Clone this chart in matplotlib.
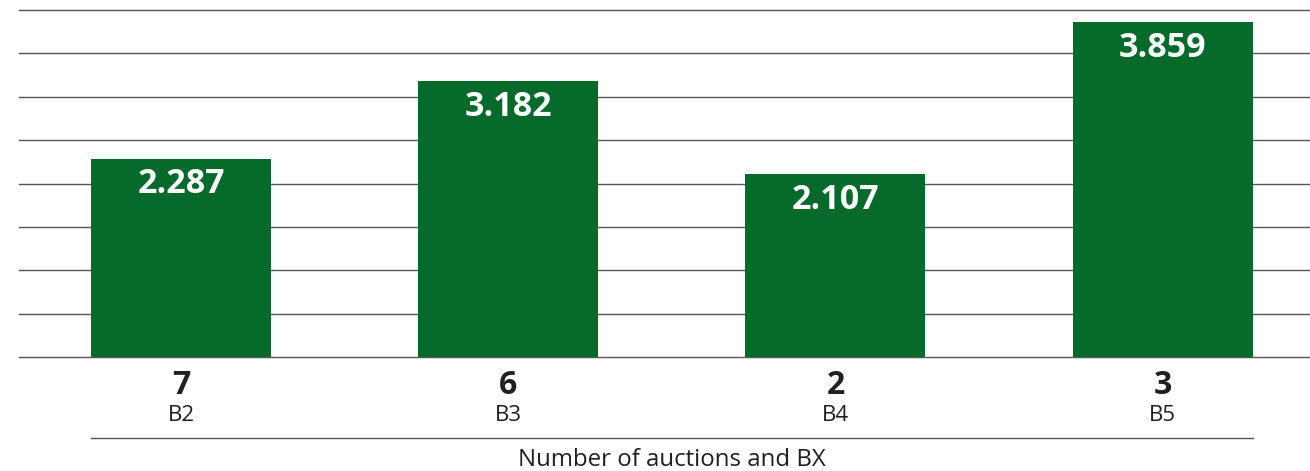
import matplotlib.pyplot as plt
import matplotlib.transforms as mtransforms
from matplotlib.lines import Line2D
import numpy as np

plt.rcParams['font.family'] = ['Open Sans', 'DejaVu Sans']

# data
bx_labels = ["B2", "B3", "B4", "B5"]
auctions = [7, 6, 2, 3]
values = [2.287, 3.182, 2.107, 3.859]
value_labels = ["2.287", "3.182", "2.107", "3.859"]

green = "#066b2a"
grid_c = "#555555"

fig = plt.figure(figsize=(13.1, 4.71), dpi=100)
ax = fig.add_axes([19 / 1310, 114 / 471, 1291 / 1310, 347 / 471])

x = np.arange(len(values))
bars = ax.bar(x, values, width=0.55, color=green, zorder=3)

ax.set_ylim(0, 4)
ax.set_xlim(-0.495, 3.45)
ax.set_yticks(np.arange(0, 4.01, 0.5))
ax.yaxis.grid(True, color=grid_c, linewidth=1.0, zorder=0)
for gl in ax.get_ygridlines():
    gl.set_clip_on(False)
ax.set_axisbelow(True)
ax.tick_params(left=False, bottom=False, labelleft=False, labelbottom=False)
for s in ax.spines.values():
    s.set_visible(False)

for b, lab in zip(bars, value_labels):
    ax.annotate(lab, (b.get_x() + b.get_width() / 2, b.get_height()),
                xytext=(0, -18.5), textcoords='offset points',
                ha='center', va='center', color='white',
                fontsize=24.5, fontweight='bold', zorder=4)

trans = mtransforms.blended_transform_factory(ax.transData, ax.transAxes)
for xi, n, lab in zip(x, auctions, bx_labels):
    ax.text(xi, -0.083, str(n), transform=trans, ha='center', va='center',
            fontsize=23, fontweight='bold', color='#231f20')
    ax.text(xi, -0.17, lab, transform=trans, ha='center', va='center',
            fontsize=16, color='#231f20')

ax.add_line(Line2D([x[0] - 0.275, x[-1] + 0.275], [-0.233, -0.233],
                   transform=trans, color=grid_c, linewidth=1.0, clip_on=False))
ax.text(1.5, -0.297, "Number of auctions and BX", transform=trans,
        ha='center', va='center', fontsize=17.3, color='#231f20')

fig.savefig("out.png", dpi=100)
